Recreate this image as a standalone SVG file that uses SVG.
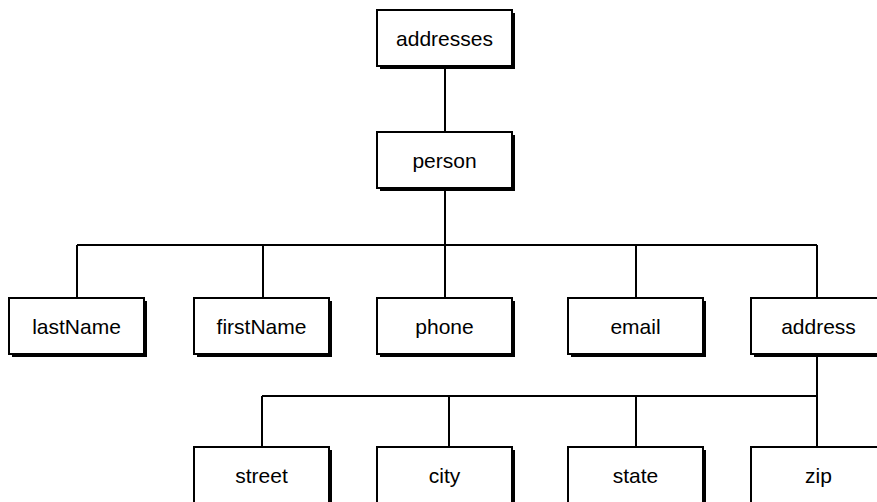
<svg xmlns="http://www.w3.org/2000/svg" width="877" height="502" viewBox="0 0 877 502">
  <style>
    .shadow { fill: #000; }
    .box { fill: #fff; stroke: #000; stroke-width: 2; }
    .label { font-family: "Liberation Sans", Arial, sans-serif; font-size: 21px; fill: #000; text-anchor: middle; }
    .conn { fill: none; stroke: #000; stroke-width: 2; }
  </style>
  <defs>
    <g id="node-shape">
      <rect class="shadow" x="3" y="3" width="135" height="56"/>
      <rect class="box" x="0" y="0" width="135" height="56"/>
    </g>
  </defs>

  <g id="connectors">
    <path class="conn" d="M445 66 V132"/>
    <path class="conn" d="M445 188 V245 M77 245 H817 M77 245 V298 M263 245 V298 M445 245 V298 M636 245 V298 M817 245 V298"/>
    <path class="conn" d="M817 354 V447 M262 396 H817 M262 396 V447 M449 396 V447 M636 396 V447"/>
  </g>

  <g id="addresses" transform="translate(377,10)">
    <use href="#node-shape"/>
    <text class="label" x="67.5" y="35.5">addresses</text>
  </g>
  <g id="person" transform="translate(377,132)">
    <use href="#node-shape"/>
    <text class="label" x="67.5" y="35.5">person</text>
  </g>

  <g id="lastName" transform="translate(9,298)">
    <use href="#node-shape"/>
    <text class="label" x="67.5" y="35.5">lastName</text>
  </g>
  <g id="firstName" transform="translate(194,298)">
    <use href="#node-shape"/>
    <text class="label" x="67.5" y="35.5">firstName</text>
  </g>
  <g id="phone" transform="translate(377,298)">
    <use href="#node-shape"/>
    <text class="label" x="67.5" y="35.5">phone</text>
  </g>
  <g id="email" transform="translate(568,298)">
    <use href="#node-shape"/>
    <text class="label" x="67.5" y="35.5">email</text>
  </g>
  <g id="address" transform="translate(751,298)">
    <use href="#node-shape"/>
    <text class="label" x="67.5" y="35.5">address</text>
  </g>

  <g id="street" transform="translate(194,447)">
    <use href="#node-shape"/>
    <text class="label" x="67.5" y="35.5">street</text>
  </g>
  <g id="city" transform="translate(377,447)">
    <use href="#node-shape"/>
    <text class="label" x="67.5" y="35.5">city</text>
  </g>
  <g id="state" transform="translate(568,447)">
    <use href="#node-shape"/>
    <text class="label" x="67.5" y="35.5">state</text>
  </g>
  <g id="zip" transform="translate(751,447)">
    <use href="#node-shape"/>
    <text class="label" x="67.5" y="35.5">zip</text>
  </g>
</svg>
